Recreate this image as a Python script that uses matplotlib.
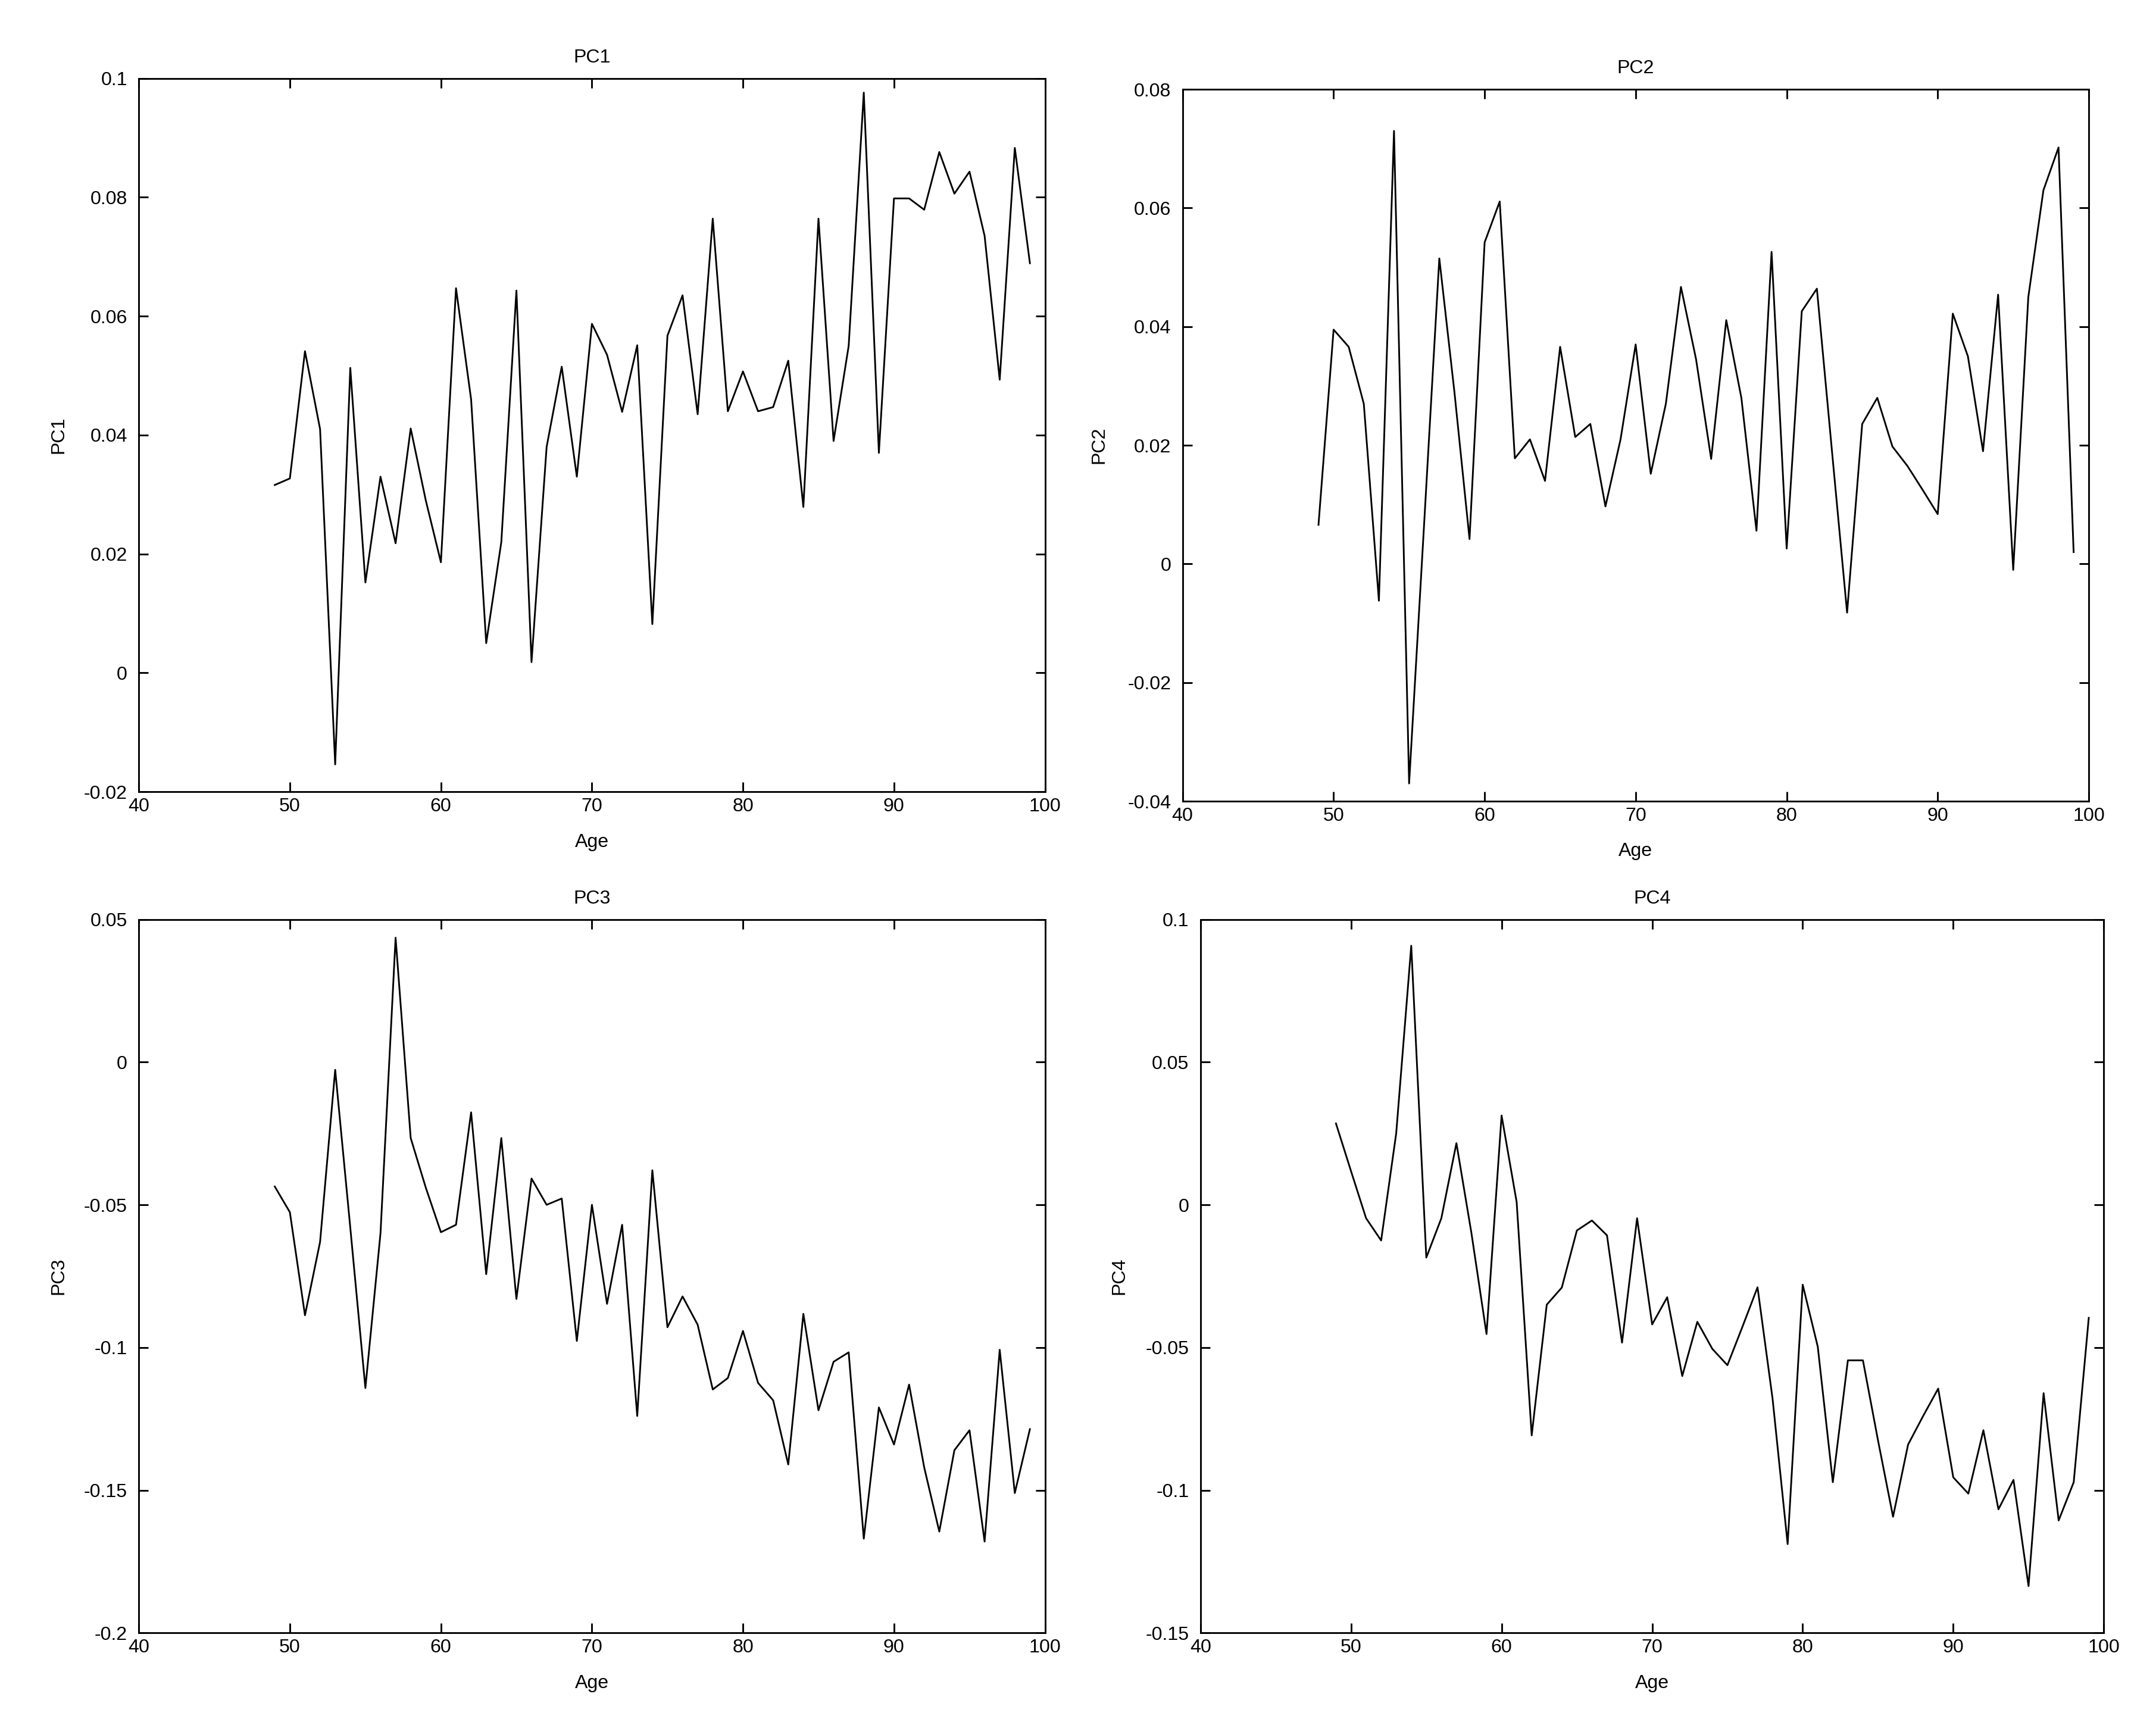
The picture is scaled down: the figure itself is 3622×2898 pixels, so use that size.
import matplotlib
matplotlib.use("Agg")
import matplotlib.pyplot as plt
from matplotlib.ticker import FuncFormatter

ages = list(range(49, 100))

pc1 = [0.0316, 0.0327, 0.0541, 0.041, -0.0154, 0.0513, 0.0152, 0.033, 0.0218, 0.0411,
       0.029, 0.0186, 0.0647, 0.046, 0.005, 0.022, 0.0643, 0.0018, 0.038, 0.0515,
       0.033, 0.0587, 0.0535, 0.0439, 0.0551, 0.0082, 0.0567, 0.0635, 0.0435, 0.0764,
       0.044, 0.0507, 0.044, 0.0447, 0.0525, 0.0279, 0.0764, 0.039, 0.055, 0.0976,
       0.037, 0.0798, 0.0798, 0.0779, 0.0876, 0.0806, 0.0843, 0.0735, 0.0493, 0.0883,
       0.0689]

pc2 = [0.0066, 0.0395, 0.0366, 0.027, -0.0062, 0.073, -0.037, 0.007, 0.0515, 0.029,
       0.0042, 0.0542, 0.0611, 0.0178, 0.021, 0.014, 0.0366, 0.0214, 0.0236, 0.0097,
       0.021, 0.037, 0.0152, 0.027, 0.0467, 0.0345, 0.0177, 0.0411, 0.028, 0.0056,
       0.0526, 0.0026, 0.0426, 0.0464, 0.019, -0.0082, 0.0236, 0.028, 0.0198, 0.0165,
       0.0125, 0.0084, 0.0422, 0.035, 0.019, 0.0454, -0.001, 0.045, 0.063, 0.0702,
       0.002]

pc3 = [-0.0436, -0.0526, -0.0887, -0.063, -0.0027, -0.058, -0.1142, -0.06, 0.0436, -0.0266,
       -0.044, -0.0596, -0.057, -0.0176, -0.0743, -0.0266, -0.083, -0.0408, -0.05, -0.0478,
       -0.0977, -0.05, -0.0847, -0.057, -0.124, -0.0379, -0.0929, -0.0821, -0.092, -0.1147,
       -0.1107, -0.0942, -0.1124, -0.1185, -0.141, -0.0882, -0.122, -0.105, -0.1017, -0.167,
       -0.121, -0.134, -0.113, -0.142, -0.1645, -0.136, -0.129, -0.168, -0.1008, -0.151,
       -0.1286]

pc4 = [0.0285, 0.0118, -0.0047, -0.0125, 0.025, 0.0908, -0.0185, -0.0047, 0.0216, -0.01,
       -0.0453, 0.0313, 0.001, -0.0808, -0.035, -0.029, -0.009, -0.0055, -0.0107, -0.0483,
       -0.0047, -0.0419, -0.0324, -0.06, -0.041, -0.0505, -0.0562, -0.0427, -0.0289, -0.068,
       -0.1189, -0.028, -0.0497, -0.0972, -0.0545, -0.0545, -0.0825, -0.1093, -0.084, -0.074,
       -0.0644, -0.0955, -0.1012, -0.079, -0.1067, -0.0964, -0.1336, -0.066, -0.1106, -0.0972,
       -0.0396]

names = ["PC1", "PC2", "PC3", "PC4"]
series = [pc1, pc2, pc3, pc4]
ylims = [(-0.02, 0.1), (-0.04, 0.08), (-0.2, 0.05), (-0.15, 0.1)]
ysteps = [0.02, 0.02, 0.05, 0.05]
xticks = [40, 50, 60, 70, 80, 90, 100]

# axes boxes as [left, bottom, width, height] in figure fractions
boxes = [
    [0.0644, 0.541, 0.4203, 0.4136],
    [0.5485, 0.5355, 0.4203, 0.4127],
    [0.0644, 0.0534, 0.4203, 0.4136],
    [0.5568, 0.0534, 0.4190, 0.4136],
]
ylab_x = [-0.079, -0.082, -0.079, -0.080]

plt.rcParams["font.family"] = ["Liberation Sans", "DejaVu Sans"]

fig = plt.figure(figsize=(3622 / 231, 2898 / 231), dpi=231)

for name, y, (lo, hi), step, box, lx in zip(names, series, ylims, ysteps, boxes, ylab_x):
    ax = fig.add_axes(box)
    ax.plot(ages, y, color="black", lw=0.9)
    ax.set_xlim(40, 100)
    ax.set_ylim(lo, hi)
    ax.set_xticks(xticks)
    n = int(round((hi - lo) / step))
    ax.set_yticks([lo + i * step for i in range(n + 1)])
    ax.yaxis.set_major_formatter(FuncFormatter(lambda v, p: "%g" % round(v, 4)))
    ax.tick_params(direction="in", top=True, right=True, length=5, width=0.9,
                   labelsize=10)
    ax.tick_params(axis="x", pad=3)
    ax.tick_params(axis="y", pad=6)
    for s in ax.spines.values():
        s.set_linewidth(0.9)
    ax.text(0.5, 1.029, name, transform=ax.transAxes, ha="center", va="center",
            fontsize=10)
    ax.set_xlabel("Age", fontsize=10)
    ax.xaxis.set_label_coords(0.5, -0.058)
    ax.set_ylabel(name, fontsize=10)
    ax.yaxis.set_label_coords(lx, 0.5)

fig.savefig("out.png", dpi=231)
